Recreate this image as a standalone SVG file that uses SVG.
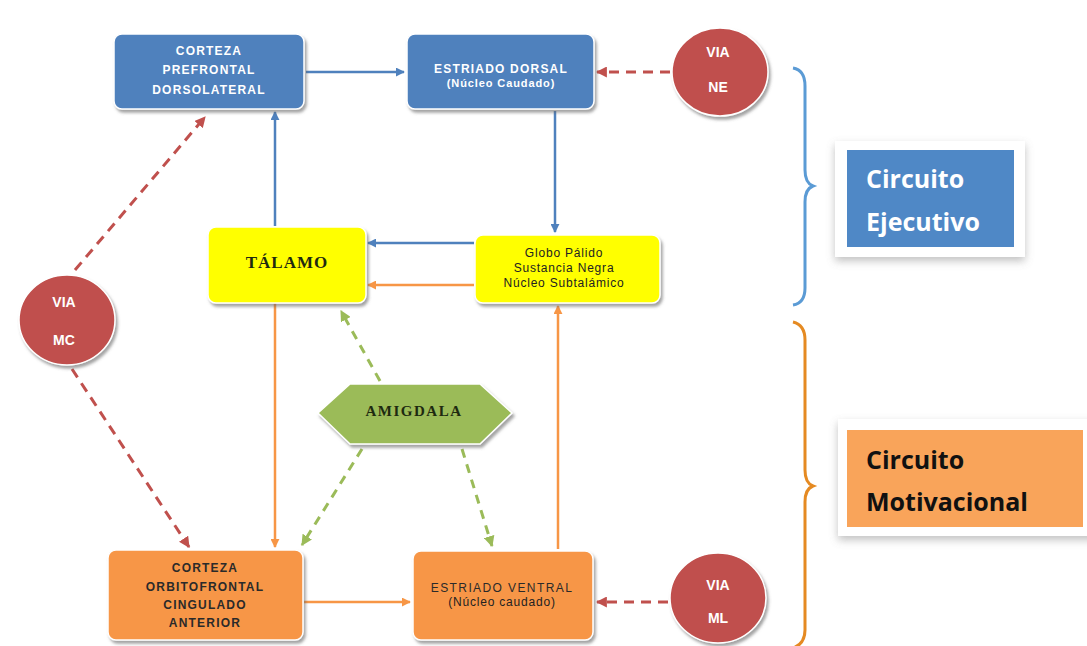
<svg xmlns="http://www.w3.org/2000/svg" width="1087" height="646" viewBox="0 0 1087 646">
  <defs>
    <filter id="shadow" x="-10%" y="-10%" width="125%" height="130%">
      <feDropShadow dx="2" dy="3" stdDeviation="1.6" flood-color="#666" flood-opacity="0.6"/>
    </filter>
    <filter id="softShadow" x="-10%" y="-15%" width="125%" height="140%">
      <feDropShadow dx="0" dy="4" stdDeviation="4" flood-color="#777" flood-opacity="0.45"/>
    </filter>
    <marker id="arrBlue" viewBox="0 0 10 10" refX="9" refY="5" markerWidth="9" markerHeight="9" markerUnits="userSpaceOnUse" orient="auto">
      <path d="M0,0 L10,5 L0,10 z" fill="#4f81bd"/>
    </marker>
    <marker id="arrOrange" viewBox="0 0 10 10" refX="9" refY="5" markerWidth="9" markerHeight="9" markerUnits="userSpaceOnUse" orient="auto">
      <path d="M0,0 L10,5 L0,10 z" fill="#f79646"/>
    </marker>
    <marker id="arrRed" viewBox="0 0 10 10" refX="9" refY="5" markerWidth="11" markerHeight="11" markerUnits="userSpaceOnUse" orient="auto">
      <path d="M0,0 L10,5 L0,10 z" fill="#c0504d"/>
    </marker>
    <marker id="arrGreen" viewBox="0 0 10 10" refX="9" refY="5" markerWidth="11" markerHeight="11" markerUnits="userSpaceOnUse" orient="auto">
      <path d="M0,0 L10,5 L0,10 z" fill="#9bbb59"/>
    </marker>
  </defs>
  <style>
    .box { stroke: #ffffff; stroke-width: 1.5; filter: url(#shadow); }
    .blue { fill: #4f81bd; }
    .yellow { fill: #ffff00; }
    .orange { fill: #f79646; }
    .red { fill: #c0504d; }
    .green { fill: #9bbb59; }
    .lbl { font-family: "Liberation Sans", Arial, sans-serif; font-weight: bold; font-size: 12px; text-anchor: middle; letter-spacing: 1.2px; }
    .lblw { fill: #ffffff; }
    .lbld { fill: #2a2a2a; }
    .small { font-family: "Liberation Sans", Arial, sans-serif; font-size: 12px; text-anchor: middle; fill: #222; letter-spacing: 0.8px; }
    .serif { font-family: "Liberation Serif", "Times New Roman", serif; font-weight: bold; text-anchor: middle; fill: #1e2a10; }
    .via { font-family: "Liberation Sans", Arial, sans-serif; font-weight: bold; font-size: 14px; text-anchor: middle; fill: #ffffff; }
    .circ { font-family: "Open Sans", "Liberation Sans", sans-serif; font-weight: bold; font-size: 25px; }
    .solidB { stroke: #4f81bd; stroke-width: 2.5; fill: none; marker-end: url(#arrBlue); }
    .solidO { stroke: #f79646; stroke-width: 2.5; fill: none; marker-end: url(#arrOrange); }
    .dashR { stroke: #c0504d; stroke-width: 3; stroke-dasharray: 10 7; fill: none; marker-end: url(#arrRed); }
    .dashG { stroke: #9bbb59; stroke-width: 3; stroke-dasharray: 9 7; fill: none; marker-end: url(#arrGreen); }
  </style>

  <rect width="1087" height="646" fill="#ffffff"/>

  <!-- connectors -->
  <g id="connectors">
    <line class="solidB" x1="306" y1="72" x2="404" y2="72"/>
    <line class="solidB" x1="555" y1="111" x2="555" y2="232"/>
    <line class="solidB" x1="474" y1="243" x2="368" y2="243"/>
    <line class="solidO" x1="474" y1="285" x2="368" y2="285"/>
    <line class="solidB" x1="275" y1="226" x2="275" y2="112"/>
    <line class="solidO" x1="275" y1="303" x2="275" y2="547"/>
    <line class="solidO" x1="304" y1="602" x2="410" y2="602"/>
    <line class="solidO" x1="558" y1="549" x2="558" y2="306"/>
    <line class="dashR" x1="670" y1="72" x2="597" y2="72"/>
    <line class="dashR" x1="668" y1="602" x2="597" y2="602"/>
    <line class="dashR" x1="75" y1="270" x2="205" y2="117"/>
    <line class="dashR" x1="72" y1="369" x2="189" y2="547"/>
    <line class="dashG" x1="380" y1="381" x2="341" y2="311"/>
    <line class="dashG" x1="362" y1="449" x2="302" y2="545"/>
    <line class="dashG" x1="462" y1="449" x2="492" y2="546"/>
  </g>

  <!-- executive circuit nodes -->
  <g id="corteza-prefrontal">
    <rect class="box blue" x="114" y="34" width="190" height="75" rx="8"/>
    <text class="lbl lblw" x="209" y="55">CORTEZA</text>
    <text class="lbl lblw" x="209" y="74">PREFRONTAL</text>
    <text class="lbl lblw" x="209" y="94">DORSOLATERAL</text>
  </g>
  <g id="estriado-dorsal">
    <rect class="box blue" x="407" y="34" width="187" height="75" rx="8"/>
    <text class="lbl lblw" x="501" y="73">ESTRIADO DORSAL</text>
    <text class="lbl lblw" x="501" y="87" style="font-size:11px;letter-spacing:0.9px">(Núcleo Caudado)</text>
  </g>
  <g id="via-ne">
    <ellipse class="box red" cx="720" cy="72" rx="48" ry="44"/>
    <text class="via" x="718" y="57">VIA</text>
    <text class="via" x="718" y="92">NE</text>
  </g>
  <g id="talamo">
    <rect class="box yellow" x="208" y="227" width="158" height="76" rx="8"/>
    <text class="serif" x="287" y="268" style="font-size:17px;letter-spacing:1px">TÁLAMO</text>
  </g>
  <g id="globo-palido">
    <rect class="box yellow" x="475" y="235" width="185" height="68" rx="8"/>
    <text class="small" x="564" y="257">Globo Pálido</text>
    <text class="small" x="564" y="272">Sustancia Negra</text>
    <text class="small" x="564" y="287">Núcleo Subtalámico</text>
  </g>

  <!-- shared nodes -->
  <g id="via-mc">
    <ellipse class="box red" cx="67" cy="320" rx="48" ry="45"/>
    <text class="via" x="64" y="307">VIA</text>
    <text class="via" x="64" y="345">MC</text>
  </g>
  <g id="amigdala">
    <polygon class="box green" points="318,413 350,384 480,384 512,413 480,444 350,444"/>
    <text class="serif" x="414" y="416" style="font-size:15px;letter-spacing:1.5px">AMIGDALA</text>
  </g>

  <!-- motivational circuit nodes -->
  <g id="corteza-orbitofrontal">
    <rect class="box orange" x="108" y="550" width="195" height="90" rx="8"/>
    <text class="lbl lbld" x="205" y="572">CORTEZA</text>
    <text class="lbl lbld" x="205" y="591">ORBITOFRONTAL</text>
    <text class="lbl lbld" x="205" y="609">CINGULADO</text>
    <text class="lbl lbld" x="205" y="627">ANTERIOR</text>
  </g>
  <g id="estriado-ventral">
    <rect class="box orange" x="413" y="551" width="180" height="89" rx="8"/>
    <text class="lbl lbld" x="502" y="592" style="font-weight:normal;letter-spacing:1.4px">ESTRIADO VENTRAL</text>
    <text class="small" x="502" y="606">(Núcleo caudado)</text>
  </g>
  <g id="via-ml">
    <ellipse class="box red" cx="718" cy="598" rx="48" ry="45"/>
    <text class="via" x="718" y="590">VIA</text>
    <text class="via" x="718" y="623">ML</text>
  </g>

  <!-- circuit braces and labels -->
  <g id="brace-ejecutivo">
    <path d="M793,68 Q805,70 805,86 L805,170 Q805,183 813,186 Q805,189 805,202 L805,288 Q805,303 793,305" fill="none" stroke="#5b9bd5" stroke-width="3"/>
  </g>
  <g id="circuito-ejecutivo">
    <rect x="835" y="141" width="190" height="116" fill="#ffffff" filter="url(#softShadow)"/>
    <rect x="847" y="150" width="167" height="97" fill="#4f88c6"/>
    <text class="circ" x="866" y="188" fill="#ffffff">Circuito</text>
    <text class="circ" x="866" y="231" fill="#ffffff">Ejecutivo</text>
  </g>
  <g id="brace-motivacional">
    <path d="M793,322 Q805,325 805,340 L805,470 Q805,483 813,486 Q805,489 805,502 L805,630 Q805,644 793,648" fill="none" stroke="#e58a22" stroke-width="3"/>
  </g>
  <g id="circuito-motivacional">
    <rect x="838" y="419" width="260" height="117" fill="#ffffff" filter="url(#softShadow)"/>
    <rect x="847" y="430" width="236" height="97" fill="#f9a45a"/>
    <text class="circ" x="866" y="469" fill="#111111">Circuito</text>
    <text class="circ" x="866" y="511" fill="#111111">Motivacional</text>
  </g>
</svg>
